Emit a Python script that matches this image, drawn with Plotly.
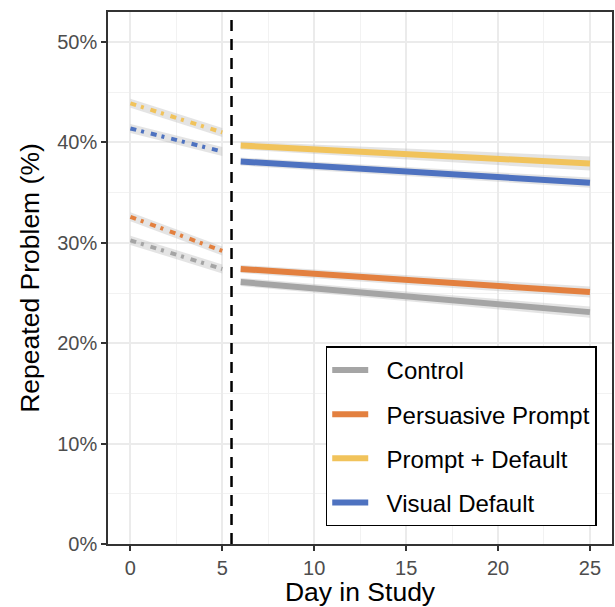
import plotly.graph_objects as go

# ---------------- data ----------------
groups = ["Control", "Persuasive Prompt", "Prompt + Default", "Visual Default"]
colors = ["#A5A5A5", "#E3803F", "#F1C35B", "#4E72C0"]

pre_days = [0, 5]
post_days = [6, 25]
intervention_day = 5.5

pre_start = [30.25, 32.6, 43.9, 41.4]
pre_end = [27.4, 29.2, 41.0, 39.1]
post_start = [26.1, 27.4, 39.7, 38.1]
post_end = [23.1, 25.1, 37.9, 36.0]

# half-width of the confidence ribbon (percentage points)
pre_ci = [0.45, 0.45, 0.45, 0.45]
post_ci_start = [0.4, 0.4, 0.4, 0.4]
post_ci_end = [0.55, 0.55, 0.7, 0.5]

x_ticks = [0, 5, 10, 15, 20, 25]
y_ticks = [0, 0.1, 0.2, 0.3, 0.4, 0.5]

FONT = "Liberation Sans, Arial, Helvetica, sans-serif"
RIBBON = "rgba(185,185,185,0.38)"

fig = go.Figure()

# ribbons
for i, g in enumerate(groups):
    lo = [pre_start[i] - pre_ci[i], pre_end[i] - pre_ci[i]]
    hi = [pre_start[i] + pre_ci[i], pre_end[i] + pre_ci[i]]
    fig.add_trace(go.Scatter(
        x=pre_days + pre_days[::-1],
        y=[v / 100 for v in hi + lo[::-1]],
        fill="toself", fillcolor=RIBBON, line=dict(width=0),
        mode="lines", showlegend=False, hoverinfo="skip"))
    lo = [post_start[i] - post_ci_start[i], post_end[i] - post_ci_end[i]]
    hi = [post_start[i] + post_ci_start[i], post_end[i] + post_ci_end[i]]
    fig.add_trace(go.Scatter(
        x=post_days + post_days[::-1],
        y=[v / 100 for v in hi + lo[::-1]],
        fill="toself", fillcolor=RIBBON, line=dict(width=0),
        mode="lines", showlegend=False, hoverinfo="skip"))

# lines
for i, g in enumerate(groups):
    fig.add_trace(go.Scatter(
        x=pre_days, y=[pre_start[i] / 100, pre_end[i] / 100],
        mode="lines", line=dict(color=colors[i], width=4, dash="6px,5px,3px,7px"),
        showlegend=False, legendgroup=g, hoverinfo="skip"))
    fig.add_trace(go.Scatter(
        x=post_days, y=[post_start[i] / 100, post_end[i] / 100],
        mode="lines", line=dict(color=colors[i], width=6),
        name="\u00a0\u00a0" + g, legendgroup=g))

fig.add_shape(type="line", x0=intervention_day, x1=intervention_day,
              yref="paper", y0=0, y1=1,
              line=dict(color="black", width=2.5, dash="11px,8px"), layer="above")

axis_common = dict(
    showline=True, linecolor="#333333", linewidth=1.5, mirror=True,
    ticks="outside", ticklen=5, tickwidth=1.5, tickcolor="#333333",
    tickfont=dict(family=FONT, size=20, color="#4D4D4D"),
    showgrid=True, gridcolor="#EBEBEB", gridwidth=2,
    zeroline=False,
)

fig.update_xaxes(
    **axis_common,
    range=[-1.22, 26.2], tickvals=x_ticks,
    minor=dict(dtick=2.5, tick0=0, showgrid=True, gridcolor="#F2F2F2", gridwidth=1, ticks=""),
    title=dict(text="Day in Study", font=dict(family=FONT, size=26.5, color="black"), standoff=9),
)
fig.update_yaxes(
    **axis_common,
    range=[0, 0.53], tickvals=y_ticks, tickformat=".0%",
    minor=dict(dtick=0.05, tick0=0, showgrid=True, gridcolor="#F2F2F2", gridwidth=1, ticks=""),
    title=dict(text="Repeated Problem (%)", font=dict(family=FONT, size=26.5, color="black"), standoff=10),
)

fig.update_layout(
    width=615, height=607,
    margin=dict(l=108, r=1, t=12, b=62),
    paper_bgcolor="white", plot_bgcolor="white",
    font=dict(family=FONT),
    legend=dict(
        x=0.432, y=0.3715, xanchor="left", yanchor="top",
        bgcolor="white", bordercolor="black", borderwidth=1.5,
        font=dict(family=FONT, size=24, color="black"),
        tracegroupgap=10, itemwidth=36,
    ),
)

fig.write_html("out.html")
